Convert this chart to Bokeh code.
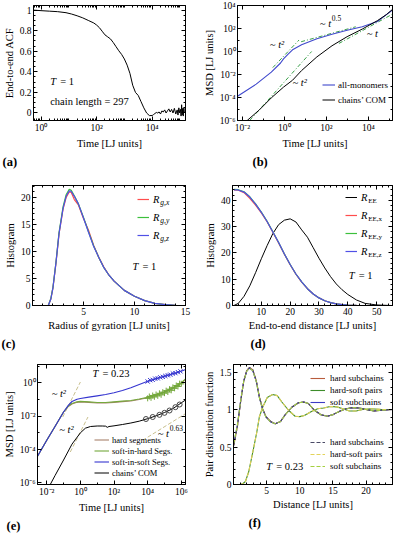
import numpy as np
from bokeh.plotting import figure
from bokeh.layouts import column, row
from bokeh.models import (Label, Legend, LegendItem, FixedTicker, LinearAxis, LogAxis,
                          CustomJSTickFormatter, Title)
from bokeh.embed import file_html
from bokeh.resources import INLINE

FONT = "Liberation Serif"

# ====================== DATA ======================
# (a) end-to-end ACF, T = 1, chain length = 297
a_log10_time = [-0.27, 0.0, 0.3, 0.6, 0.9, 1.1, 1.3, 1.5, 1.7, 1.9,
                2.0, 2.1, 2.2, 2.3, 2.4, 2.5, 2.6, 2.7, 2.8, 2.9,
                3.0, 3.1, 3.2, 3.3, 3.4, 3.5, 3.6, 3.7, 3.8, 3.9,
                4.0, 4.05, 4.1, 4.15, 4.2, 4.25, 4.3, 4.35, 4.4, 4.45,
                4.5, 4.55, 4.6, 4.65, 4.7, 4.75, 4.8, 4.85, 4.9, 4.93,
                4.96, 4.99, 5.02, 5.04, 5.06, 5.08, 5.1, 5.12, 5.14, 5.16]
a_acf = [1.0, 0.995, 0.99, 0.985, 0.975, 0.962, 0.945, 0.925, 0.9, 0.875,
         0.855, 0.83, 0.795, 0.76, 0.74, 0.72, 0.685, 0.645, 0.605, 0.57,
         0.525, 0.465, 0.385, 0.27, 0.2, 0.17, 0.11, 0.05, 0.0, -0.025,
         -0.025, -0.015, -0.005, 0.005, 0.0, 0.01, -0.01, 0.02, 0.01, 0.03,
         0.0, 0.02, 0.04, 0.01, 0.035, 0.0, 0.045, -0.01, 0.03, -0.02,
         0.05, 0.0, 0.035, -0.03, 0.08, -0.02, 0.045, -0.03, 0.05, 0.0]

# (b) MSD, T = 1
b_mono_log10_time = [-2.23, -1.34, -0.62, -0.18, -0.04, 0.18, 0.39, 0.82, 1.55, 2.27, 2.99, 3.71, 4.43, 4.86, 5.15]
b_mono_log10_msd = [-3.89, -2.84, -1.79, -1.0, -0.64, -0.23, 0.15, 0.58, 1.11, 1.5, 1.84, 2.16, 2.61, 3.21, 3.61]
b_com_log10_time = [-1.77, -1.19, -0.62, -0.04, 0.39, 0.82, 1.55, 2.27, 2.99, 3.71, 4.43, 4.86, 5.15]
b_com_log10_msd = [-6.0, -5.08, -4.03, -3.1, -2.5, -1.66, -0.47, 0.5, 1.29, 1.95, 2.68, 3.21, 3.66]
b_guide_mono_t2_t, b_guide_mono_t2_msd = [-0.55, 0.7], [-1.4, 1.0]
b_guide_t05_t, b_guide_t05_msd = [0.8, 3.4], [0.85, 2.15]
b_guide_t1_t, b_guide_t1_msd = [2.6, 5.15], [0.7, 3.25]
b_guide_com_t2_t, b_guide_com_t2_msd = [-1.65, 1.3], [-6.0, 0.0]

# (c) radius-of-gyration histograms
c_rg = [1.55, 1.8, 2.0, 2.3, 2.6, 3.0, 3.3, 3.6, 3.8, 4.1, 4.5, 5.0,
        5.5, 6.0, 6.5, 7.0, 7.5, 8.0, 9.0, 10.0, 11.0, 12.0, 13.0, 14.0]
c_hist_x = [0.0, 1.2, 3.2, 7.8, 13.2, 17.9, 20.0, 21.0, 20.9, 19.6, 18.6, 16.1,
            13.9, 11.1, 8.9, 7.1, 5.6, 4.5, 2.8, 1.7, 0.9, 0.4, 0.15, 0.02]
c_hist_y = [0.0, 1.3, 3.3, 8.0, 13.5, 18.3, 20.5, 21.5, 21.3, 20.3, 18.8, 16.3,
            13.6, 11.0, 8.9, 7.0, 5.6, 4.5, 2.8, 1.7, 0.9, 0.4, 0.15, 0.02]
c_hist_z = [0.0, 1.2, 3.2, 7.9, 13.3, 18.0, 20.2, 21.2, 21.1, 20.2, 18.8, 16.2,
            13.5, 10.9, 8.9, 7.0, 5.6, 4.5, 2.8, 1.7, 0.9, 0.4, 0.15, 0.02]

# (d) end-to-end distance histograms
d_r = [0.5, 2, 4, 6, 8, 10, 12, 14, 16, 18, 20, 22, 24, 26, 28, 30, 32, 34, 36, 38, 40, 43, 46, 50, 55]
d_ree = [0.0, 0.8, 3.5, 7.5, 12.5, 17.8, 22.8, 27.4, 30.8, 32.5, 33.0, 31.8, 28.8,
         26.0, 22.0, 18.0, 14.3, 11.0, 8.2, 6.0, 4.2, 2.1, 0.8, 0.2, 0.0]
d_ree_x = [44.0, 43.9, 43.0, 40.8, 38.2, 35.3, 31.9, 27.9, 23.8, 19.5, 15.5, 11.9, 8.9,
           6.4, 4.4, 2.9, 1.8, 1.1, 0.6, 0.3, 0.15, 0.05, 0.0, 0.0, 0.0]
d_ree_y = [44.2, 44.1, 43.3, 41.4, 38.7, 35.6, 32.1, 28.1, 24.0, 19.6, 15.6, 12.0, 9.0,
           6.4, 4.4, 2.9, 1.8, 1.1, 0.6, 0.3, 0.15, 0.05, 0.0, 0.0, 0.0]
d_ree_z = [44.0, 44.0, 43.2, 41.3, 38.6, 35.5, 32.0, 28.0, 24.0, 19.6, 15.6, 12.0, 9.0,
           6.4, 4.4, 2.9, 1.8, 1.1, 0.6, 0.3, 0.15, 0.05, 0.0, 0.0, 0.0]

# (e) MSD, T = 0.23
e_seg_log10_time = [-2.55, -2.0, -1.5, -1.0, -0.72, -0.5, -0.2, 0.0, 0.5, 1.0, 1.5,
                    2.0, 2.5, 3.0, 3.5, 4.0, 4.5, 5.0, 5.5, 6.0, 6.25]
e_hard_log10_msd = [-4.41, -3.45, -2.6, -1.75, -1.42, -1.27, -1.17, -1.14, -1.17, -1.21, -1.21,
                    -1.17, -1.13, -1.09, -1.0, -0.9, -0.76, -0.57, -0.32, -0.02, 0.2]
e_soft_in_hard_log10_msd = [-4.41, -3.45, -2.6, -1.75, -1.4, -1.24, -1.14, -1.11, -1.14, -1.18, -1.18,
                            -1.14, -1.1, -1.06, -0.97, -0.87, -0.73, -0.54, -0.29, 0.01, 0.23]
e_soft_in_soft_log10_msd = [-4.41, -3.45, -2.6, -1.75, -1.35, -1.12, -0.98, -0.94, -0.86, -0.78, -0.7,
                            -0.6, -0.46, -0.3, -0.1, 0.09, 0.25, 0.4, 0.55, 0.7, 0.8]
e_com_log10_time = [-1.95, -1.5, -1.0, -0.5, 0.0, 0.3, 0.6, 1.0, 1.3, 1.5, 1.6, 1.7,
                    2.0, 2.5, 3.0, 3.5, 4.0, 4.5, 5.0, 5.5, 6.0, 6.25]
e_com_log10_msd = [-6.4, -5.55, -4.63, -3.68, -3.0, -2.72, -2.62, -2.59, -2.59, -2.6, -2.67, -2.62,
                   -2.58, -2.5, -2.41, -2.3, -2.15, -1.98, -1.78, -1.55, -1.2, -1.03]
e_sis_marker_t = [4.0, 4.15, 4.3, 4.45, 4.6, 4.75, 4.9, 5.05, 5.2, 5.35, 5.5, 5.65, 5.8, 5.95]
e_sis_marker_msd = [0.08, 0.16, 0.18, 0.25, 0.27, 0.33, 0.36, 0.41, 0.45, 0.49, 0.56, 0.58, 0.64, 0.69]
e_sih_marker_t = [4.0, 4.1, 4.2, 4.3, 4.4, 4.5, 4.6, 4.7, 4.8, 4.9, 5.0, 5.1, 5.2, 5.3, 5.4,
                  5.5, 5.6, 5.7, 5.8, 5.9, 6.0]
e_sih_marker_msd = [-0.93, -0.82, -0.9, -0.76, -0.84, -0.7, -0.78, -0.63, -0.72, -0.56, -0.62,
                    -0.47, -0.55, -0.38, -0.45, -0.27, -0.33, -0.16, -0.22, -0.05, -0.06]
e_com_marker_t = [3.9, 4.3, 4.7, 5.0, 5.3, 5.65, 5.9]
e_com_marker_msd = [-2.17, -2.05, -1.92, -1.8, -1.66, -1.46, -1.3]
e_guide_upper_t, e_guide_upper_msd = [-1.05, 0.0], [-2.05, 0.05]
e_guide_lower_t, e_guide_lower_msd = [-0.6, 0.45], [-4.15, -2.05]
e_guide_063_t, e_guide_063_msd = [3.7, 6.25], [-3.45, -1.85]

# (f) pair distribution functions, T = 0.23
f_r = [0.05, 0.6, 1.1, 1.55, 2.0, 2.4, 2.9, 3.45, 3.9, 4.4, 4.9, 5.6, 6.3, 7.1, 7.8, 8.8,
       9.8, 10.6, 11.3, 12.2, 13.2, 14.2, 15.1, 16.1, 17.0, 18.0, 19.0, 20.0, 21.2, 22.4, 24.0]
f_hard = [0.52, 0.78, 1.12, 1.38, 1.52, 1.56, 1.53, 1.38, 1.17, 1.01, 0.905, 0.84, 0.81, 0.84, 0.93, 1.03,
          1.09, 1.1, 1.08, 0.99, 0.93, 0.91, 0.935, 0.98, 1.01, 1.025, 1.02, 1.0, 0.98, 0.99, 1.0]
f_soft = [0.55, 0.8, 1.13, 1.38, 1.51, 1.55, 1.52, 1.37, 1.16, 1.0, 0.9, 0.835, 0.81, 0.84, 0.93, 1.03,
          1.09, 1.1, 1.08, 0.99, 0.93, 0.91, 0.935, 0.98, 1.01, 1.025, 1.02, 1.0, 0.98, 0.99, 1.0]
f_hs_r = [0.05, 1.0, 1.4, 1.8, 2.3, 3.0, 3.5, 3.9, 4.4, 5.1, 5.9, 6.6, 7.3, 8.3, 9.3, 10.0,
          10.7, 11.7, 12.7, 13.6, 14.6, 15.6, 16.5, 17.5, 18.5, 19.5, 20.7, 22.4, 24.0]
f_hard_soft = [0.0, 0.0, 0.01, 0.04, 0.17, 0.47, 0.69, 0.9, 1.03, 1.16, 1.2, 1.185, 1.1, 0.99, 0.91, 0.905,
               0.92, 0.97, 1.01, 1.02, 1.04, 1.035, 1.01, 0.98, 0.98, 1.0, 1.01, 1.0, 1.0]

# tick labels
a_x_exps, b_x_exps, b_y_exps = [0, 2, 4], [-2, 0, 2, 4], [-6, -4, -2, 0, 2, 4]
e_x_exps, e_y_exps = [-2, 0, 2, 4, 6], [-6, -4, -2, 0]
a_y_ticks = [0, 0.2, 0.4, 0.6, 0.8, 1.0]
c_x_ticks, c_y_ticks = [5, 10, 15], [0, 5, 10, 15, 20]
d_x_ticks, d_y_ticks = [10, 20, 30, 40, 50], [0, 10, 20, 30, 40]
f_x_ticks, f_y_ticks = [5, 10, 15, 20], [0, 0.5, 1.0, 1.5]

# ====================== HELPERS ======================
pow_fmt = CustomJSTickFormatter(code="""
const sup = {"-": "\u207b", "0": "\u2070", "1": "\u00b9", "2": "\u00b2", "3": "\u00b3",
             "4": "\u2074", "5": "\u2075", "6": "\u2076", "7": "\u2077", "8": "\u2078", "9": "\u2079"};
const e = String(Math.round(Math.log10(tick)));
let s = "10";
for (let i = 0; i < e.length; i++) { s += sup[e[i]]; }
return s;
""")
num_fmt = CustomJSTickFormatter(code="return String(Math.round(tick * 1000) / 1000);")


def p10(v):
    return [10.0 ** x for x in v]


def log_ticker(major_exps, lo, hi, sub=False):
    majors = [10.0 ** e for e in major_exps]
    minors = [10.0 ** e for e in range(lo, hi + 1)]
    if sub:
        minors += [m * 10.0 ** e for e in range(lo, hi + 1) for m in range(2, 10)]
    return FixedTicker(ticks=majors, minor_ticks=minors)


def lin_ticker(majors, step, lo, hi):
    minors = [round(float(v), 6) for v in np.arange(lo, hi + 1e-9, step)]
    return FixedTicker(ticks=majors, minor_ticks=minors)


def base_fig(w, h, xr, yr, xt, yt, bl, br, bt, bb):
    p = figure(width=w, height=h, x_range=xr, y_range=yr, x_axis_type=xt, y_axis_type=yt,
               output_backend="svg", toolbar_location=None,
               min_border_left=bl, min_border_right=br, min_border_top=bt, min_border_bottom=bb)
    p.grid.visible = False
    p.outline_line_color = "black"
    p.outline_line_width = 1
    p.background_fill_color = "white"
    p.border_fill_color = "white"
    return p


def style_axis(ax, ticker, fmt, label):
    ax.ticker = ticker
    ax.formatter = fmt
    ax.axis_label = label
    ax.major_tick_in = 4
    ax.major_tick_out = 0
    ax.minor_tick_in = 2
    ax.minor_tick_out = 0
    ax.major_label_standoff = 2
    ax.axis_label_standoff = 2
    ax.axis_line_color = "black"
    ax.major_label_text_font = FONT
    ax.major_label_text_font_size = "9.5px"
    ax.major_label_text_color = "black"
    ax.axis_label_text_font = FONT
    ax.axis_label_text_font_size = "10.5px"
    ax.axis_label_text_font_style = "normal"
    ax.axis_label_text_color = "black"


def setup_axes(p, xt, yt, xfmt, yfmt, xlabel, ylabel, xlog, ylog):
    style_axis(p.xaxis[0], xt, xfmt, xlabel)
    style_axis(p.yaxis[0], yt, yfmt, ylabel)
    top = (LogAxis if xlog else LinearAxis)(ticker=xt)
    right = (LogAxis if ylog else LinearAxis)(ticker=yt)
    for ax in (top, right):
        ax.major_label_text_font_size = "1px"
        ax.major_label_text_alpha = 0
        ax.major_label_standoff = 0
        ax.major_tick_in = 4
        ax.major_tick_out = 0
        ax.minor_tick_in = 2
        ax.minor_tick_out = 0
        ax.axis_line_color = "black"
    p.add_layout(top, "above")
    p.add_layout(right, "right")


def text(p, x, y, s, size="10.5px", style="normal", xo=0, yo=0, units="data", align="left", base="middle"):
    p.add_layout(Label(x=x, y=y, x_units=units, y_units=units, x_offset=xo, y_offset=yo, text=s,
                       text_font=FONT, text_font_size=size, text_font_style=style,
                       text_color="black", text_align=align, text_baseline=base))


def t_label(p, x, y, rest, size="10.5px"):
    text(p, x, y, "T", size=size, style="italic")
    text(p, x, y, "= " + rest, size=size, xo=10)


def legend(p, items, x, y, glyph_w, label_h, standoff=4, size="9px", style="normal"):
    lg = Legend(items=items, location=(x, y), orientation="vertical",
                background_fill_alpha=0, border_line_alpha=0, padding=0, margin=0, spacing=0,
                glyph_width=glyph_w, glyph_height=label_h, label_height=label_h,
                label_standoff=standoff, label_text_font=FONT, label_text_font_size=size,
                label_text_font_style=style, label_text_color="black")
    p.add_layout(lg)
    return lg


def tag(p, s, offset, standoff=3):
    p.add_layout(Title(text=s, align="left", offset=offset, standoff=standoff, text_font=FONT,
                       text_font_size="12.5px", text_font_style="bold", text_color="black"), "below")


BLUE = "#3f48cc"
GUIDE = "#3aa04a"

# ====================== (a) ======================
pa = base_fig(200, 170, (10 ** -0.27, 10 ** 5.2), (-0.073, 1.045), "log", "linear", 32, 15, 5, 47)
setup_axes(pa, log_ticker(a_x_exps, -1, 5, sub=True), lin_ticker(a_y_ticks, 0.05, 0, 1.0),
           pow_fmt, num_fmt, "Time [LJ units]", "End-to-end ACF", True, False)
pa.line(p10(a_log10_time), a_acf, line_color="black", line_width=1)
t_label(pa, 10 ** 0.33, 0.31, "1")
text(pa, 10 ** 0.33, 0.11, "chain length = 297")
tag(pa, "(a)", -31)

# ====================== (b) ======================
pb = base_fig(193, 170, (10 ** -2.23, 10 ** 5.15), (1e-6, 1e4), "log", "log", 32, 1, 5, 47)
setup_axes(pb, log_ticker(b_x_exps, -3, 5), log_ticker(b_y_exps, -6, 4),
           pow_fmt, pow_fmt, "Time [LJ units]", "MSD [LJ units]", True, True)
for gt, gm in ((b_guide_mono_t2_t, b_guide_mono_t2_msd), (b_guide_t05_t, b_guide_t05_msd),
               (b_guide_t1_t, b_guide_t1_msd), (b_guide_com_t2_t, b_guide_com_t2_msd)):
    pb.line(p10(gt), p10(gm), line_color=GUIDE, line_width=1, line_dash="4 2 1 2")
rb1 = pb.line(p10(b_mono_log10_time), p10(b_mono_log10_msd), line_color=BLUE, line_width=1.1)
rb2 = pb.line(p10(b_com_log10_time), p10(b_com_log10_msd), line_color="black", line_width=1)
legend(pb, [LegendItem(label="all-monomers", renderers=[rb1]),
            LegendItem(label="chains\u2019 COM", renderers=[rb2])], 85, 13, 13, 15, standoff=3)
text(pb, 10 ** -0.69, 10 ** 0.58, "~ t\u00b2", style="italic")
text(pb, 10 ** 1.69, 10 ** 2.42, "~ t", style="italic")
text(pb, 10 ** 1.69, 10 ** 2.42, "0.5", size="7.5px", xo=12, yo=6)
text(pb, 10 ** 3.92, 10 ** 1.55, "~ t", style="italic")
text(pb, 10 ** 0.39, 10 ** -2.71, "~ t\u00b2", style="italic")
tag(pb, "(b)", 15)

# ====================== (c) ======================
pc = base_fig(200, 182, (0, 15), (0, 22.2), "linear", "linear", 32, 15, 15, 47)
setup_axes(pc, lin_ticker(c_x_ticks, 1, 0, 15), lin_ticker(c_y_ticks, 1, 0, 22),
           num_fmt, num_fmt, "Radius of gyration [LJ units]", "Histogram", False, False)
rc1 = pc.line(c_rg, c_hist_x, line_color="#ff4d4d", line_width=1.2)
rc2 = pc.line(c_rg, c_hist_y, line_color="#3cc03c", line_width=1.2)
rc3 = pc.line(c_rg, c_hist_z, line_color="#5050e6", line_width=1.2)
legend(pc, [LegendItem(label="R", renderers=[rc1]), LegendItem(label="R", renderers=[rc2]),
            LegendItem(label="R", renderers=[rc3])], 105, 61, 12, 18, size="10.5px", style="italic")
for i, sub in enumerate(["g,x", "g,y", "g,z"]):
    text(pc, 105 + 12 + 4 + 6.8, 61 + 54 - 9 - 18 * i - 3, sub, size="7.5px", style="italic", units="screen")
t_label(pc, 9.8, 7.2, "1")
tag(pc, "(c)", -31)

# ====================== (d) ======================
pd_ = base_fig(193, 182, (0, 55.5), (0, 45.7), "linear", "linear", 32, 1, 15, 47)
setup_axes(pd_, lin_ticker(d_x_ticks, 2, 0, 54), lin_ticker(d_y_ticks, 2, 0, 44),
           num_fmt, num_fmt, "End-to-end distance [LJ units]", "Histogram", False, False)
rd0 = pd_.line(d_r, d_ree, line_color="black", line_width=1)
rd1 = pd_.line(d_r, d_ree_x, line_color="#ff4d4d", line_width=1.2)
rd2 = pd_.line(d_r, d_ree_y, line_color="#3cc03c", line_width=1.2)
rd3 = pd_.line(d_r, d_ree_z, line_color="#5050e6", line_width=1.2)
legend(pd_, [LegendItem(label="R", renderers=[r]) for r in (rd0, rd1, rd2, rd3)],
       113, 45, 12, 18, size="10.5px", style="italic")
for i, sub in enumerate(["EE", "EE,x", "EE,y", "EE,z"]):
    text(pd_, 113 + 12 + 4 + 6.8, 45 + 72 - 9 - 18 * i - 3, sub, size="7px", units="screen")
t_label(pd_, 40.3, 11.4, "1")
tag(pd_, "(d)", 18)

# ====================== (e) ======================
pe = base_fig(200, 182, (10 ** -2.55, 10 ** 6.25), (10 ** -6.1, 10 ** 1.1), "log", "log", 32, 15, 12, 47)
setup_axes(pe, log_ticker(e_x_exps, -3, 6), log_ticker(e_y_exps, -7, 1),
           pow_fmt, pow_fmt, "Time [LJ units]", "MSD [LJ units]", True, True)
for gt, gm in ((e_guide_upper_t, e_guide_upper_msd), (e_guide_lower_t, e_guide_lower_msd),
               (e_guide_063_t, e_guide_063_msd)):
    pe.line(p10(gt), p10(gm), line_color="#c9c08e", line_width=1, line_dash="4 2")
re1 = pe.line(p10(e_seg_log10_time), p10(e_hard_log10_msd), line_color="#a8826c", line_width=1.1)
re2 = pe.line(p10(e_seg_log10_time), p10(e_soft_in_hard_log10_msd), line_color="#74a83c", line_width=1.1)
re3 = pe.line(p10(e_seg_log10_time), p10(e_soft_in_soft_log10_msd), line_color="#3535d0", line_width=1.1)
re4 = pe.line(p10(e_com_log10_time), p10(e_com_log10_msd), line_color="black", line_width=1)
pe.scatter(p10(e_sih_marker_t), p10(e_sih_marker_msd), marker="cross", size=6, line_color="#74a83c")
pe.scatter(p10(e_sis_marker_t), p10(e_sis_marker_msd), marker="x", size=6, line_color="#3535d0")
pe.scatter(p10(e_com_marker_t), p10(e_com_marker_msd), marker="circle", size=5,
           line_color="#444444", fill_color=None)
legend(pe, [LegendItem(label="hard segments", renderers=[re1]),
            LegendItem(label="soft-in-hard Segs.", renderers=[re2]),
            LegendItem(label="soft-in-soft Segs.", renderers=[re3]),
            LegendItem(label="chains\u2019 COM", renderers=[re4])], 57, 6, 15, 11, standoff=3, size="8.5px")
t_label(pe, 10 ** 0.72, 10 ** 0.56, "0.23")
text(pe, 10 ** -1.71, 10 ** -0.66, "~ t\u00b2", style="italic")
text(pe, 10 ** -1.26, 10 ** -2.81, "~ t\u00b2", style="italic")
text(pe, 10 ** 4.6, 10 ** -3.05, "~ t", style="italic")
text(pe, 10 ** 4.6, 10 ** -3.05, "0.63", size="7.5px", xo=12, yo=6)
tag(pe, "(e)", -31)

# ====================== (f) ======================
pf = base_fig(193, 182, (0, 24), (0, 1.6), "linear", "linear", 32, 1, 12, 47)
setup_axes(pf, lin_ticker(f_x_ticks, 1, 0, 24), lin_ticker(f_y_ticks, 0.1, 0, 1.6),
           num_fmt, num_fmt, "Distance [LJ units]", "Pair distribution function", False, False)
rf1 = pf.line(f_r, f_hard, line_color="#b85c3c", line_width=1.1)
rf2 = pf.line(f_hs_r, f_hard_soft, line_color="#3d8c2a", line_width=1.1)
rf3 = pf.line(f_r, f_soft, line_color="#3b3bc4", line_width=1.1)
rf4 = pf.line(f_r, f_hard, line_color="#4a4a66", line_width=1.1, line_dash="4 2")
rf5 = pf.line(f_hs_r, f_hard_soft, line_color="#e3d35a", line_width=1.1, line_dash="4 2")
rf6 = pf.line(f_r, f_soft, line_color="#a5d040", line_width=1.1, line_dash="4 2")
legend(pf, [LegendItem(label="hard subchains", renderers=[rf1]),
            LegendItem(label="hard-soft pairs", renderers=[rf2]),
            LegendItem(label="soft subchains", renderers=[rf3])], 77, 76, 15, 12, standoff=5)
legend(pf, [LegendItem(label="hard subchains", renderers=[rf4]),
            LegendItem(label="hard-soft pairs", renderers=[rf5]),
            LegendItem(label="soft subchains", renderers=[rf6])], 77, 12, 15, 12, standoff=5)
t_label(pf, 4.95, 0.237, "0.23")
tag(pf, "(f)", 15)

layout = column(row(pa, pb), row(pc, pd_), row(pe, pf))
open("out.html", "w", encoding="utf-8").write(file_html(layout, INLINE))
